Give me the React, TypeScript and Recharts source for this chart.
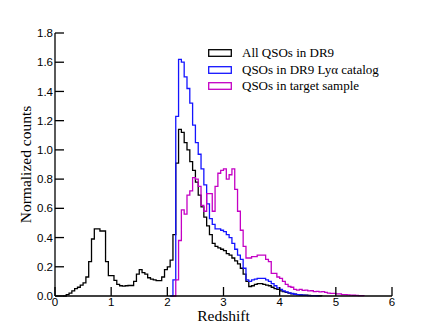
import React from "react";
import { LineChart, Line, XAxis, YAxis, Legend } from "recharts";

const BIN_WIDTH = 0.05;
const X_MAX = 6;
const X_TICKS = [0, 1, 2, 3, 4, 5, 6];
const Y_TICKS = [0, 0.2, 0.4, 0.6, 0.8, 1.0, 1.2, 1.4, 1.6, 1.8];

// normalized counts per redshift bin, each list starts at its own left bin edge
const ALL_START = 0.15;
const allQsos = [
  0, 0.01, 0.02, 0.035, 0.05, 0.06, 0.075, 0.09, 0.13, 0.235,
  0.39, 0.46, 0.46, 0.445, 0.445, 0.235, 0.14, 0.14, 0.107, 0.08,
  0.07, 0.068, 0.07, 0.072, 0.072, 0.1, 0.15, 0.18, 0.16, 0.15,
  0.125, 0.115, 0.11, 0.105, 0.105, 0.13, 0.18, 0.2, 0.245, 0.42,
  0.91, 1.14, 1.12, 1.05, 1.0, 0.92, 0.86, 0.78, 0.69, 0.61,
  0.54, 0.48, 0.42, 0.36, 0.34, 0.33, 0.32, 0.31, 0.29, 0.28,
  0.26, 0.24, 0.22, 0.19, 0.15, 0.1, 0.065, 0.07, 0.08, 0.085,
  0.085, 0.08, 0.075, 0.07, 0.06, 0.05, 0.045, 0.035, 0.03, 0.025,
  0.02, 0.015, 0.012, 0.01, 0.008, 0.006, 0.005, 0.004, 0.003, 0.002,
  0.002, 0.001, 0,
];

const LYA_START = 2.05;
const lyaQsos = [
  0, 0.11, 1.23, 1.62, 1.6, 1.5, 1.42, 1.32, 1.17, 1.05,
  0.97, 0.87, 0.76, 0.63, 0.53, 0.49, 0.46, 0.46, 0.45, 0.44,
  0.42, 0.4, 0.36, 0.32, 0.28, 0.25, 0.19, 0.11, 0.1, 0.11,
  0.115, 0.12, 0.12, 0.12, 0.11, 0.1, 0.085, 0.07, 0.055, 0.045,
  0.035, 0.028, 0.022, 0.017, 0.012, 0.01, 0.007, 0.005, 0.004, 0.003,
  0.002, 0.002, 0.001, 0,
];

const TARGET_START = 2.1;
const targetQsos = [
  0, 0.11, 0.38, 0.59, 0.56, 0.69, 0.72, 0.81, 0.8, 0.75,
  0.62, 0.58, 0.7, 0.7, 0.58, 0.75, 0.84, 0.86, 0.87, 0.8,
  0.83, 0.87, 0.73, 0.58, 0.45, 0.34, 0.26, 0.26, 0.27, 0.27,
  0.28, 0.28, 0.28, 0.25, 0.235, 0.155, 0.155, 0.13, 0.12, 0.1,
  0.08, 0.065, 0.06, 0.045, 0.04, 0.045, 0.038, 0.04, 0.035, 0.036,
  0.03, 0.032, 0.028, 0.03, 0.025, 0.02, 0.018, 0.018, 0.015, 0.014,
  0.01, 0.01, 0.008, 0.006, 0.005, 0.004, 0.003, 0.002, 0,
];

const BLACK = "#000000";
const BLUE = "#1414ff";
const MAGENTA = "#c400c4";

const SERIES = [
  { key: "all", label: "All QSOs in DR9", color: BLACK },
  { key: "lya", label: "QSOs in DR9 Lyα catalog", color: BLUE },
  { key: "target", label: "QSOs in target sample", color: MAGENTA },
];

const pick = (values: number[], start: number, x: number) => {
  const i = Math.round((x - start) / BIN_WIDTH);
  return i >= 0 && i < values.length ? values[i] : null;
};

const nBins = Math.round(X_MAX / BIN_WIDTH);
const data = Array.from({ length: nBins + 1 }, (_, i) => {
  const x = Math.round(i * BIN_WIDTH * 100) / 100;
  return {
    x,
    all: pick(allQsos, ALL_START, x),
    lya: pick(lyaQsos, LYA_START, x),
    target: pick(targetQsos, TARGET_START, x),
  };
});

const serif = "Liberation Serif, DejaVu Serif, serif";
const sans = "Liberation Sans, Arial, sans-serif";
const tickStyle = { fill: "#000", fontSize: 11.5, fontFamily: sans };

function LegendBox() {
  return (
    <div style={{ fontFamily: serif, fontSize: 13, color: "#000" }}>
      {SERIES.map((s) => (
        <div key={s.key} style={{ display: "flex", alignItems: "center", height: 16.5 }}>
          <svg width={24} height={8} style={{ display: "block" }}>
            <rect x={0.7} y={0.7} width={22.6} height={6.6} fill="#fff" stroke={s.color} strokeWidth={1.3} />
          </svg>
          <span style={{ marginLeft: 10, whiteSpace: "nowrap" }}>{s.label}</span>
        </div>
      ))}
    </div>
  );
}

export default function App() {
  return (
    <div style={{ position: "absolute", left: 0, top: 0, width: 436, height: 328, background: "#fff" }}>
      <LineChart width={436} height={328} data={data} margin={{ top: 33, right: 44, bottom: 0, left: 0 }}>
        <XAxis
          dataKey="x"
          type="number"
          domain={[0, X_MAX]}
          ticks={X_TICKS}
          allowDataOverflow
          height={32}
          tickSize={-9}
          tickMargin={11}
          tick={tickStyle}
          stroke="#000"
          strokeWidth={1.3}
          label={{ value: "Redshift", position: "insideBottom", offset: 7, fill: "#000", fontSize: 15.5, fontFamily: serif }}
        />
        <XAxis
          xAxisId="top"
          orientation="top"
          dataKey="x"
          type="number"
          domain={[0, X_MAX]}
          ticks={X_TICKS}
          height={0}
          tickSize={-9}
          tick={false}
          stroke="#000"
          strokeWidth={1.3}
        />
        <YAxis
          type="number"
          domain={[0, 1.8]}
          ticks={Y_TICKS}
          width={55}
          tickSize={-9}
          tickMargin={11}
          tick={tickStyle}
          tickFormatter={(v) => Number(v).toFixed(1)}
          stroke="#000"
          strokeWidth={1.3}
          label={{ value: "Normalized counts", angle: -90, position: "center", dx: -2, fill: "#000", fontSize: 15.5, fontFamily: serif }}
        />
        <YAxis
          yAxisId="right"
          orientation="right"
          type="number"
          domain={[0, 1.8]}
          ticks={Y_TICKS}
          width={0}
          tickSize={-9}
          tick={false}
          stroke="#000"
          strokeWidth={1.3}
        />
        {SERIES.map((s) => (
          <Line
            key={s.key}
            dataKey={s.key}
            type="stepAfter"
            stroke={s.color}
            strokeWidth={1.3}
            dot={false}
            activeDot={false}
            isAnimationActive={false}
          />
        ))}
        <Legend
          layout="vertical"
          align="center"
          verticalAlign="middle"
          wrapperStyle={{ top: 45, left: 208, width: 190 }}
          content={() => <LegendBox />}
        />
      </LineChart>
    </div>
  );
}
